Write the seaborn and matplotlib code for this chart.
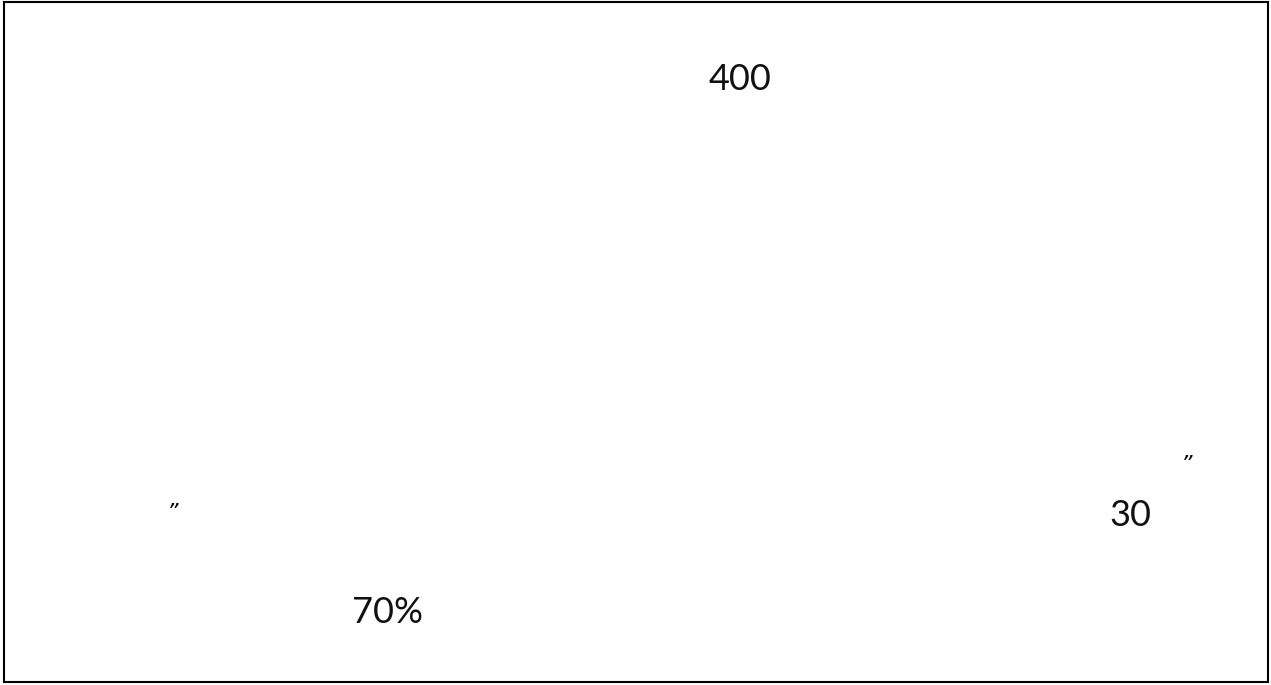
import seaborn as sns
import matplotlib.pyplot as plt

# visible labels of the card (the rest of the original text did not render)
numbers = ['400', '30', '70%']
number_x = [740, 1130, 388]
number_base = [90, 526, 623]

quotes = ['\u201d', '\u201d']
quote_x = [173, 1187]
quote_y = [505, 457]

sns.set_theme(style='white')
plt.rcParams['font.family'] = ['Lato', 'DejaVu Sans']

W, H = 1271, 685
fig = plt.figure(figsize=(W / 100, H / 100), dpi=100)
ax = fig.add_axes([4 / W, 3 / H, 1264 / W, 680 / H])
ax.set_xlim(4, 1268)
ax.set_ylim(682, 2)
ax.set(xticks=[], yticks=[])
for s in ax.spines.values():
    s.set_visible(True)
    s.set_color('black')
    s.set_linewidth(1.5)

for t, x, y in zip(numbers, number_x, number_base):
    ax.text(x, y, t, fontsize=26, ha='center', va='baseline', color='#111111')
for t, x, y in zip(quotes, quote_x, quote_y):
    ax.text(x, y + 8, t, fontsize=16, ha='center', va='center', color='black',
            family=['DejaVu Sans'], style='oblique')

fig.savefig('out.png', dpi=100)
